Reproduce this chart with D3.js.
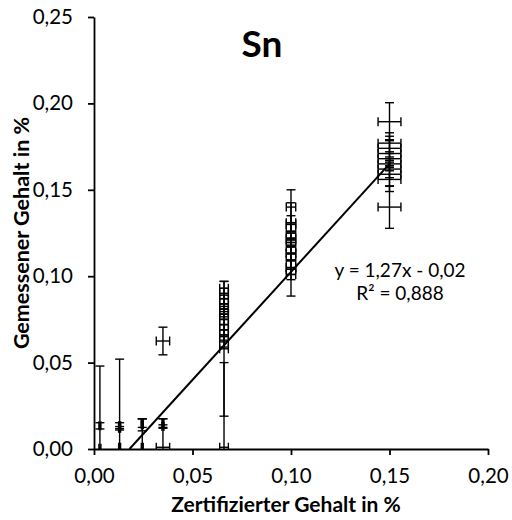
<!DOCTYPE html>
<html><head><meta charset="utf-8">
<script src="https://cdn.jsdelivr.net/npm/d3@7"></script>
<style>html,body{margin:0;padding:0;background:#fff}svg{display:block}text{font-family:Lato,"Open Sans",sans-serif;fill:#000}</style>
</head><body><div id="chart"></div>
<script>
// certified content (x), measured content (y), and their uncertainties
const xVals = [0.003,0.003, 0.013,0.013,0.013, 0.0245,0.0245,0.0245, 0.035,0.035,0.035,0.035,
  0.066,0.066,0.066,0.066,0.066,0.066,0.066,0.066,0.066,0.066,0.066,0.066,0.066,0.066,
  0.100,0.100,0.100,0.100,0.100,0.100,0.100,0.100,0.100,0.100,0.100,0.100,0.100,
  0.150,0.150,0.150,0.150,0.150,0.150,0.150,0.150,0.150,0.150];
const yVals = [0.0134,0.0005, 0.0135,0.012,0.001, 0.015,0.014,0.001, 0.015,0.013,0.001,0.0625,
  0.093,0.090,0.087,0.084,0.081,0.0795,0.078,0.075,0.072,0.069,0.066,0.062,0.058,0.001,
  0.140,0.131,0.130,0.126,0.122,0.121,0.117,0.1135,0.113,0.109,0.105,0.104,0.101,
  0.1894,0.177,0.174,0.171,0.168,0.165,0.162,0.159,0.156,0.140];
const xErr = [0.0005,0.0005, 0.0005,0.0005,0.0005, 0.0005,0.0005,0.0005, 0.0005,0.0005,0.0034,0.0034,
  0.0022,0.0022,0.0022,0.0022,0.0022,0.0022,0.0022,0.0022,0.0022,0.0022,0.0022,0.0022,0.0022,0.0022,
  0.0024,0.0024,0.0024,0.0024,0.0024,0.0024,0.0024,0.0024,0.0024,0.0024,0.0024,0.0024,0.0024,
  0.0058,0.0058,0.0058,0.0058,0.0058,0.0058,0.0058,0.0058,0.0058,0.0058];
const yErr = [0.0018,0.0475, 0.0017,0.001,0.051, 0.0025,0.0035,0.0165, 0.0025,0.001,0.0165,0.008,
  0.004,0.003,0.003,0.003,0.003,0.003,0.003,0.003,0.003,0.003,0.003,0.003,0.039,0.049,
  0.010,0.0115,0.005,0.004,0.004,0.004,0.004,0.004,0.004,0.004,0.004,0.0155,0.003,
  0.011,0.006,0.007,0.008,0.004,0.004,0.005,0.007,0.007,0.0123];
const xTicks = [0,0.05,0.10,0.15,0.20];
const yTicks = [0,0.05,0.10,0.15,0.20,0.25];
const fitSlope = [1.25];
const fitIntercept = [-0.0225];
const fitRange = [0.018, 0.15];
const titleText = "Sn";
const xTitle = "Zertifizierter Gehalt in %";
const yTitle = "Gemessener Gehalt in %";
const eqLines = ["y = 1,27x - 0,02", "R² = 0,888"];

const W = 512, H = 520;
const m = {left:94, right:24, top:17, bottom:71};
const svg = d3.select("#chart").append("svg").attr("width",W).attr("height",H);
const x = d3.scaleLinear().domain([0,0.20]).range([m.left, W-m.right]);
const y = d3.scaleLinear().domain([0,0.25]).range([H-m.bottom, m.top]);
const fmt = d => d3.format(".2f")(d).replace(".", ",");

svg.append("defs").append("clipPath").attr("id","clip").append("rect")
  .attr("x", m.left).attr("y", m.top).attr("width", W-m.right-m.left+10).attr("height", H-m.bottom-m.top);

// axes
const xAxis = svg.append("g").attr("transform",`translate(0,${y(0)})`)
  .call(d3.axisBottom(x).tickValues(xTicks).tickFormat(fmt).tickSize(6).tickSizeOuter(0));
const yAxis = svg.append("g").attr("transform",`translate(${x(0)},0)`)
  .call(d3.axisLeft(y).tickValues(yTicks).tickFormat(fmt).tickSize(6).tickSizeOuter(0));
[xAxis,yAxis].forEach(g=>{
  g.select(".domain").attr("stroke","#000").attr("stroke-width",1.8);
  g.selectAll(".tick line").attr("stroke","#000").attr("stroke-width",1.8);
  g.selectAll(".tick text").style("font-size","20.5px").attr("fill","#000");
});
xAxis.selectAll(".tick text").attr("y", 19).attr("dy","0.71em");
yAxis.selectAll(".tick text").attr("x", -21);

// error bars
const pts = xVals.map((v,i)=>({x:v, y:yVals[i], ex:xErr[i], ey:yErr[i]}));
const gE = svg.append("g").attr("clip-path","url(#clip)").attr("stroke","#000").attr("stroke-width",1.4).attr("fill","none");
const cap = 4.5;
pts.forEach(p=>{
  const cx = x(p.x), cy = y(p.y);
  const y1 = y(p.y+p.ey), y2 = y(p.y-p.ey);
  const x1 = x(p.x-p.ex), x2 = x(p.x+p.ex);
  gE.append("line").attr("x1",cx).attr("x2",cx).attr("y1",y1).attr("y2",y2);
  gE.append("line").attr("x1",cx-cap).attr("x2",cx+cap).attr("y1",y1).attr("y2",y1);
  gE.append("line").attr("x1",cx-cap).attr("x2",cx+cap).attr("y1",y2).attr("y2",y2);
  gE.append("line").attr("x1",x1).attr("x2",x2).attr("y1",cy).attr("y2",cy);
  gE.append("line").attr("x1",x1).attr("x2",x1).attr("y1",cy-cap).attr("y2",cy+cap);
  gE.append("line").attr("x1",x2).attr("x2",x2).attr("y1",cy-cap).attr("y2",cy+cap);
});

// regression line
const fit = fitRange.map(v=>({x:v, y:fitSlope[0]*v+fitIntercept[0]}));
svg.append("path").datum(fit).attr("fill","none").attr("stroke","#000").attr("stroke-width",2)
  .attr("d", d3.line().x(d=>x(d.x)).y(d=>y(d.y)));

// texts
svg.append("text").attr("x",262).attr("y",57).attr("text-anchor","middle")
  .style("font-size","37px").style("font-weight","bold").text(titleText);
svg.append("text").attr("x",286).attr("y",512).attr("text-anchor","middle")
  .style("font-size","21px").style("font-weight","bold").text(xTitle);
svg.append("text").attr("transform",`translate(29,${(y(0)+y(0.25))/2}) rotate(-90)`).attr("text-anchor","middle")
  .style("font-size","21.5px").style("font-weight","bold").text(yTitle);
eqLines.forEach((t,i)=>{
  svg.append("text").attr("x",400).attr("y",277+i*23).attr("text-anchor","middle")
    .style("font-size","19px").text(t);
});
</script></body></html>
